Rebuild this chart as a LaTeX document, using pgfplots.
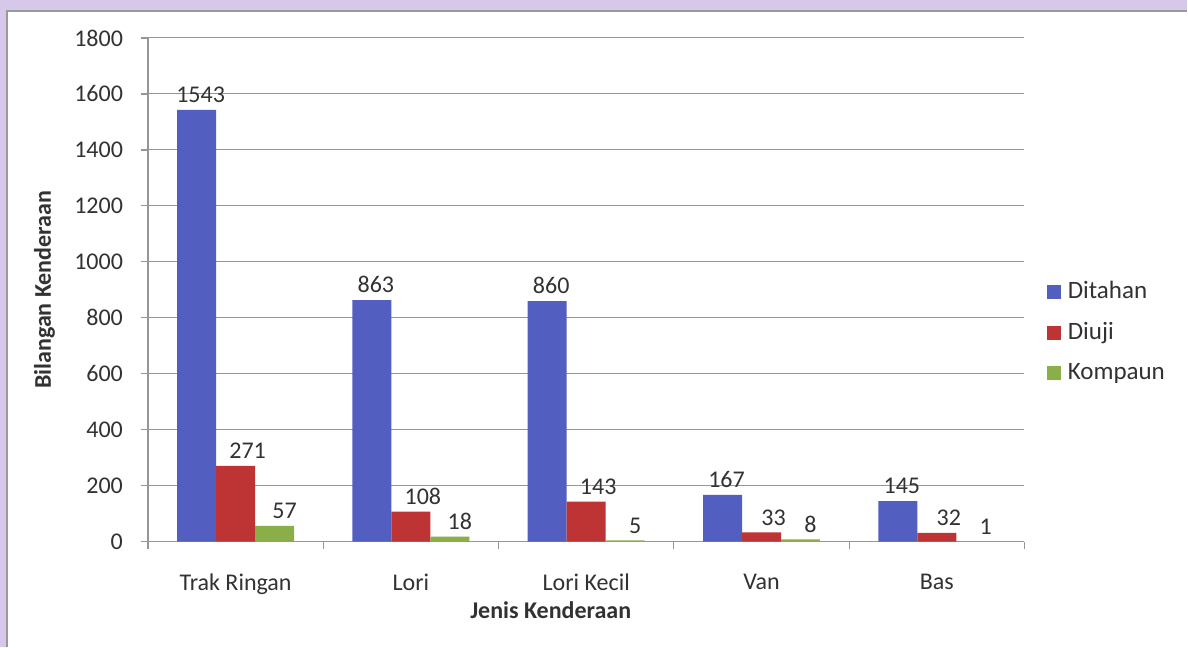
\documentclass[border=0pt]{standalone}
\usepackage{pgfplots}
\pgfplotsset{compat=1.18}
\usepackage{fontspec}
\setmainfont{Carlito}
\definecolor{lav}{RGB}{214,200,234}
\definecolor{cblue}{RGB}{82,94,192}
\definecolor{cred}{RGB}{190,52,52}
\definecolor{cgreen}{RGB}{138,174,72}
\definecolor{txt}{RGB}{50,50,50}
\definecolor{gridc}{RGB}{150,150,150}
\begin{document}
\begin{tikzpicture}
\fill[lav] (0,0) rectangle (594bp,323.5bp);
\fill[white] (3.5bp,0) rectangle (594bp,318bp);
\draw[gray!80, line width=0.6bp] (3.5bp,0) -- (3.5bp,318bp) -- (594bp,318bp);
\useasboundingbox (0,0) rectangle (594bp,323.5bp);
\begin{axis}[
  at={(74bp,52.5bp)}, anchor=south west,
  width=438.5bp, height=252bp, scale only axis,
  ybar=0pt, bar width=19.5bp,
  xmin=-0.5, xmax=4.5, ymin=0, ymax=1800,
  xtick={0,1,2,3,4},
  xticklabels={Trak Ringan, Lori, Lori Kecil, Van, Bas},
  minor xtick={-0.5,0.5,1.5,2.5,3.5,4.5},
  major x tick style={draw=none},
  minor tick length=3.5bp, major tick length=3.5bp,
  tick align=outside,
  ytick={0,200,...,1800},
  ymajorgrids, grid style={gridc, line width=0.5bp},
  axis x line*=bottom, axis y line*=left,
  axis line style={gridc, line width=0.6bp},
  tick style={gridc, line width=0.6bp},
  /pgf/number format/assume math mode=true,
  /pgf/number format/1000 sep={},
  tick label style={font=\fontsize{12bp}{14bp}\selectfont, text=txt},
  xticklabel style={yshift=-9bp},
  yticklabel style={xshift=-5.5bp},
  xlabel={\bfseries Jenis Kenderaan},
  ylabel={\bfseries Bilangan Kenderaan},
  label style={font=\fontsize{12bp}{14bp}\selectfont, text=txt},
  xlabel style={at={(axis description cs:0.4595,-0.135)}, anchor=center},
  ylabel style={at={(axis description cs:-0.118,0.5)}, anchor=center},
  nodes near coords,
  every node near coord/.append style={font=\fontsize{12bp}{14bp}\selectfont, text=txt},
  legend style={at={(axis description cs:1,0.416)}, anchor=west, xshift=8bp,
    draw=none, fill=none, font=\fontsize{12.5bp}{14bp}\selectfont, text=txt,
    row sep=6.5bp},
  legend cell align=left,
  legend image code/.code={\fill[#1] (0bp,-3.5bp) rectangle (7bp,3.5bp);},
]
\addplot[fill=cblue, draw=none, every node near coord/.append style={xshift=2bp}] coordinates {(0,1543) (1,863) (2,860) (3,167) (4,145)};
\addplot[fill=cred, draw=none, every node near coord/.append style={xshift=6bp}] coordinates {(0,271) (1,108) (2,143) (3,33) (4,32)};
\addplot[fill=cgreen, draw=none, every node near coord/.append style={xshift=5bp}] coordinates {(0,57) (1,18) (2,5) (3,8) (4,1)};
\legend{\hspace{1.5bp}Ditahan, \hspace{1.5bp}Diuji, \hspace{1.5bp}Kompaun}
\end{axis}
\end{tikzpicture}
\end{document}
